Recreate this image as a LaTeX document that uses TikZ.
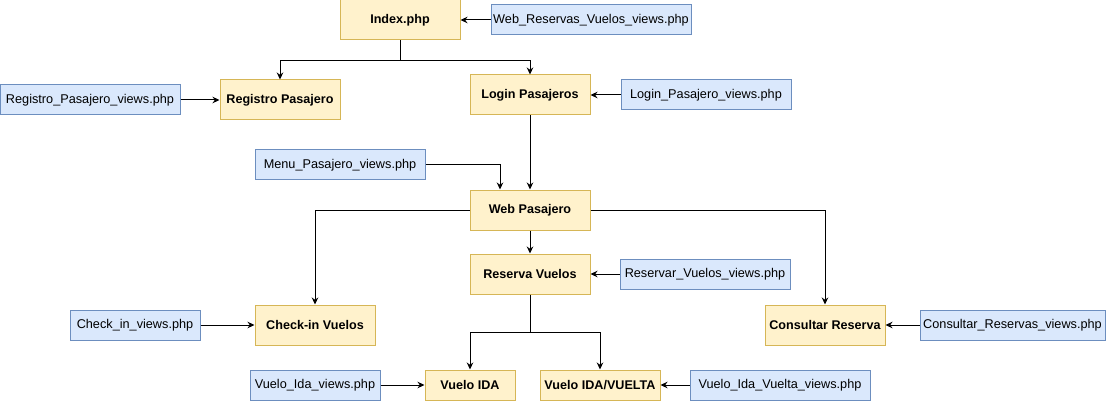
\documentclass[tikz,border=0pt]{standalone}
\usepackage{fontspec}
\setmainfont{Liberation Sans}
\usetikzlibrary{arrows.meta}
\definecolor{amarilloF}{HTML}{FFF2CC}
\definecolor{amarilloB}{HTML}{D6B656}
\definecolor{azulF}{HTML}{DAE8FC}
\definecolor{azulB}{HTML}{6C8EBF}
\begin{document}
\begin{tikzpicture}[x=1pt,y=-1pt,
  paso/.style={draw=amarilloB,fill=amarilloF,line width=1pt,inner sep=0pt,
    minimum width=120pt,minimum height=40pt,font=\fontsize{12.6}{14}\selectfont\bfseries},
  vista/.style={draw=azulB,fill=azulF,line width=1pt,inner sep=0pt,
    minimum height=30pt,font=\fontsize{12.7}{14}\selectfont},
  flecha/.style={-{Stealth[length=7pt,width=6.5pt]},line width=1pt}]

  \useasboundingbox (0,0) rectangle (1106,401);

  % pantallas
  \node[paso] (index) at (400,20) {Index.php};
  \node[paso] (registro) at (280,100) {Registro Pasajero};
  \node[paso] (login) at (530,95) {Login Pasajeros};
  \node[paso] (web) at (530,210) {Web Pasajero};
  \node[paso] (reserva) at (530,274) {Reserva Vuelos};
  \node[paso] (checkin) at (315,325) {Check-in Vuelos};
  \node[paso] (consulta) at (825,325) {Consultar Reserva};
  \node[paso,minimum width=90pt,minimum height=30pt] (ida) at (470,385) {Vuelo IDA};
  \node[paso,minimum height=30pt] (idavuelta) at (600,385) {Vuelo IDA/VUELTA};

  % vistas
  \node[vista,minimum width=200pt] (webv) at (591,20) {Web\_Reservas\_Vuelos\_views.php};
  \node[vista,minimum width=180pt] (registrov) at (90,100) {Registro\_Pasajero\_views.php};
  \node[vista,minimum width=170pt] (loginv) at (706,95) {Login\_Pasajero\_views.php};
  \node[vista,minimum width=170pt] (menuv) at (340,165) {Menu\_Pasajero\_views.php};
  \node[vista,minimum width=170pt] (reservav) at (705,274) {Reservar\_Vuelos\_views.php};
  \node[vista,minimum width=130pt] (checkinv) at (135,325) {Check\_in\_views.php};
  \node[vista,minimum width=185pt] (consultav) at (1012.5,325) {Consultar\_Reservas\_views.php};
  \node[vista,minimum width=130pt] (idav) at (315,385) {Vuelo\_Ida\_views.php};
  \node[vista,minimum width=180pt] (idavueltav) at (780,385) {Vuelo\_Ida\_Vuelta\_views.php};

  % flujo
  \draw[flecha] (index.south) -- ++(0,20) -| (registro.north);
  \draw[flecha] (index.south) -- ++(0,20) -| (login.north);
  \draw[flecha] (login) -- (web);
  \draw[flecha] (menuv.east) -| ([xshift=-30pt]web.north);
  \draw[flecha] (web.west) -| (checkin.north);
  \draw[flecha] (web.east) -| (consulta.north);
  \draw[flecha] (web) -- (reserva);
  \draw[flecha] (reserva.south) -- ++(0,38) -| (ida.north);
  \draw[flecha] (reserva.south) -- ++(0,38) -| (idavuelta.north);

  % vistas a pantallas
  \draw[flecha] (webv) -- (index);
  \draw[flecha] (registrov) -- (registro);
  \draw[flecha] (loginv) -- (login);
  \draw[flecha] (reservav) -- (reserva);
  \draw[flecha] (checkinv) -- (checkin);
  \draw[flecha] (consultav) -- (consulta);
  \draw[flecha] (idav) -- (ida);
  \draw[flecha] (idavueltav) -- (idavuelta);

\end{tikzpicture}
\end{document}
